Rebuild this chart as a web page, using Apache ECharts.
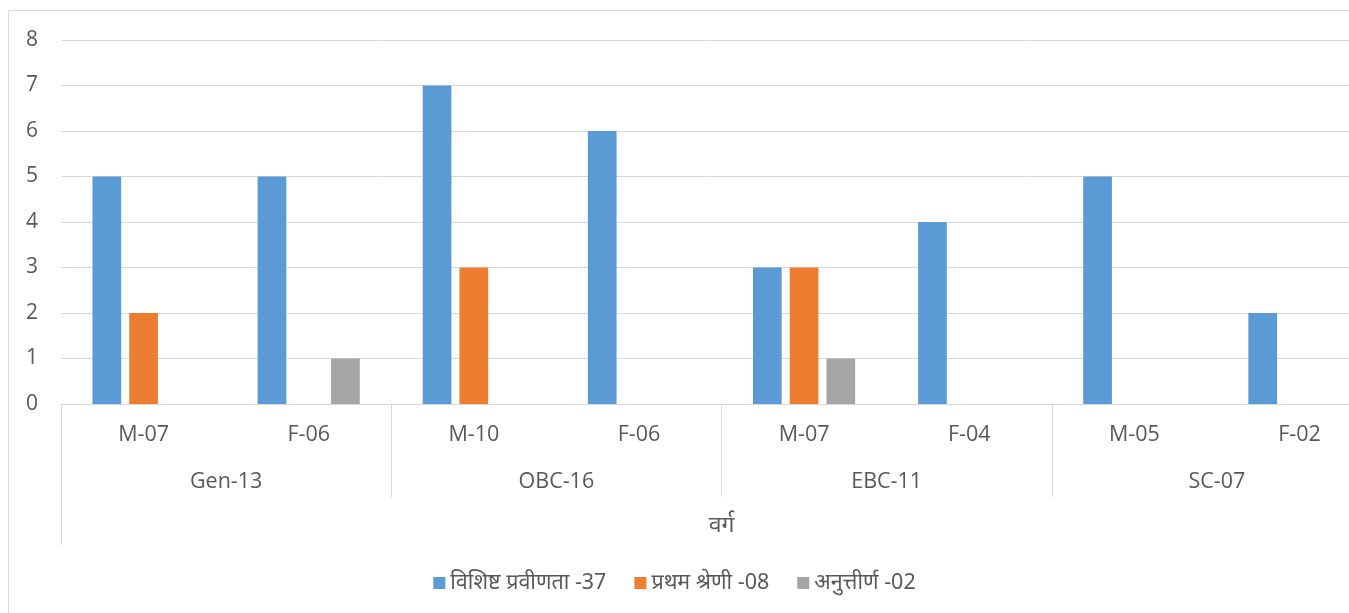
<!DOCTYPE html>
<html>
<head>
<meta charset="utf-8">
<script src="https://cdn.jsdelivr.net/npm/echarts@6/dist/echarts.min.js"></script>
<style>
html,body{margin:0;padding:0;background:#fff;}
#c{width:1349px;height:613px;}
</style>
</head>
<body>
<div id="c"></div>
<script>
var subCategories = ['M-07','F-06','M-10','F-06','M-07','F-04','M-05','F-02'];
var groupCategories = ['Gen-13','OBC-16','EBC-11','SC-07'];
var axisTitle = ['वर्ग'];
var seriesNames = ['विशिष्ट प्रवीणता -37','प्रथम श्रेणी -08','अनुत्तीर्ण -02'];
var distinction = [5,5,7,6,3,4,5,2];
var firstDivision = [2,0,3,0,3,0,0,0];
var failed = [0,1,0,0,1,0,0,0];
var yTicks = {min:0, max:8, interval:1};

var textColor = '#595959';
var lineColor = '#d9d9d9';
var fontLatin = '"Open Sans", "Noto Sans", sans-serif';

var chart = echarts.init(document.getElementById('c'));
chart.setOption({
  animation:false,
  color:['#5B9BD5','#ED7D31','#A5A5A5'],
  graphic:[{
    type:'rect', silent:true, z:-10,
    shape:{x:8.5, y:10.5, width:1500, height:800},
    style:{fill:'none', stroke:lineColor, lineWidth:1}
  }],
  grid:{left:61, top:40, right:-33, bottom:209, containLabel:false, outerBoundsMode:'none'},
  legend:{
    bottom:14, left:'center',
    itemWidth:12, itemHeight:12, itemGap:28,
    icon:'rect',
    textStyle:{color:textColor, fontSize:21.5, fontFamily:'"Noto Sans", sans-serif'},
    data:seriesNames
  },
  xAxis:[{
    type:'category', data:subCategories, position:'bottom',
    axisLine:{show:true, lineStyle:{color:lineColor, width:1}},
    axisTick:{show:false},
    axisLabel:{color:textColor, fontSize:21.5, fontFamily:fontLatin, margin:31, verticalAlign:'middle'}
  },{
    type:'category', data:groupCategories, position:'bottom', gridIndex:0,
    axisLine:{show:false},
    axisTick:{show:true, length:93, lineStyle:{color:lineColor, width:1}},
    axisLabel:{color:textColor, fontSize:21.5, fontFamily:fontLatin, margin:78, verticalAlign:'middle'}
  },{
    type:'category', data:axisTitle, position:'bottom', gridIndex:0,
    axisLine:{show:false},
    axisTick:{show:true, length:141, lineStyle:{color:lineColor, width:1}},
    axisLabel:{color:textColor, fontSize:23, fontFamily:'"Noto Sans", sans-serif', margin:121, verticalAlign:'middle'}
  }],
  yAxis:{
    type:'value', min:yTicks.min, max:yTicks.max, interval:yTicks.interval,
    axisLine:{show:false}, axisTick:{show:false},
    splitLine:{lineStyle:{color:lineColor, width:1}},
    axisLabel:{color:textColor, fontSize:21, fontFamily:fontLatin, margin:23}
  },
  series:[
    {name:seriesNames[0], type:'bar', data:distinction, barWidth:28.7, barGap:'28%', xAxisIndex:0},
    {name:seriesNames[1], type:'bar', data:firstDivision, barWidth:28.7, barGap:'28%', xAxisIndex:0},
    {name:seriesNames[2], type:'bar', data:failed, barWidth:28.7, barGap:'28%', xAxisIndex:0}
  ]
});
</script>
</body>
</html>
